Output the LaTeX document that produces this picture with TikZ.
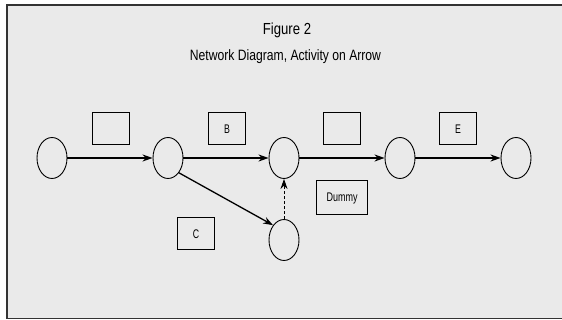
\documentclass[tikz,border=0pt]{standalone}
\usepackage{fontspec}
\setmainfont{Liberation Sans}
\usepackage{graphicx}
\usetikzlibrary{shapes.geometric}
\usetikzlibrary{arrows.meta}

\definecolor{panel}{HTML}{EAEAEA}
\definecolor{rim}{HTML}{333333}
\newcommand{\narrow}[2][0.8]{\scalebox{#1}[1]{#2}}

\begin{document}
\begin{tikzpicture}[
      x=1pt, y=-1pt,
      event/.style={draw, ellipse, line width=0.9pt, minimum width=30pt,
                    minimum height=41pt, inner sep=0pt},
      act/.style={draw, line width=1pt, minimum width=37pt, minimum height=32pt,
                  inner sep=0pt, font=\fontsize{12.5}{12.5}\selectfont},
      arc/.style={-{Stealth[length=10pt, width=7pt]}, line width=1.3pt},
      >=stealth,
    ]
    \useasboundingbox (0,0) rectangle (562,320);
    \draw[rim, line width=1.6pt, fill=panel] (7,5) rectangle (566,318.5);

    % title
    \node[anchor=base, font=\fontsize{16}{16}\selectfont] (fig) at (287,35)
      {\narrow[0.82]{Figure 2}};
    \node[anchor=base, font=\fontsize{15}{15}\selectfont] (sub) at (285.5,61)
      {\narrow[0.81]{Network Diagram, Activity on Arrow}};

    % events
    \node[event] (e1) at (52,158) {};
    \node[event] (e2) at (168,158) {};
    \node[event] (e3) at (284,158) {};
    \node[event] (e4) at (400,158) {};
    \node[event] (e5) at (516,158) {};
    \node[event] (e6) at (284,240) {};

    % activity labels
    \node[act] (a) at (111,129) {};
    \node[act] (b) at (227,129) {\narrow[0.7]{B}};
    \node[act] (c) at (196,234) {\narrow[0.7]{C}};
    \node[act] (d) at (342,129) {};
    \node[act] (e) at (458,129) {\narrow[0.7]{E}};
    \node[act, minimum width=51pt, minimum height=34pt] (dum) at (342,198)
      {\narrow[0.72]{Dummy}};

    % activities
    \draw[arc] (e1) -- (e2);
    \draw[arc] (e2) -- (e3);
    \draw[arc] (e3) -- (e4);
    \draw[arc] (e4) -- (e5);
    \draw[arc] (e2.south east) -- (e6.north west);
    \draw[arc, line width=0.9pt, dash pattern=on 3pt off 2pt] (e6) -- (e3);
\end{tikzpicture}
\end{document}
